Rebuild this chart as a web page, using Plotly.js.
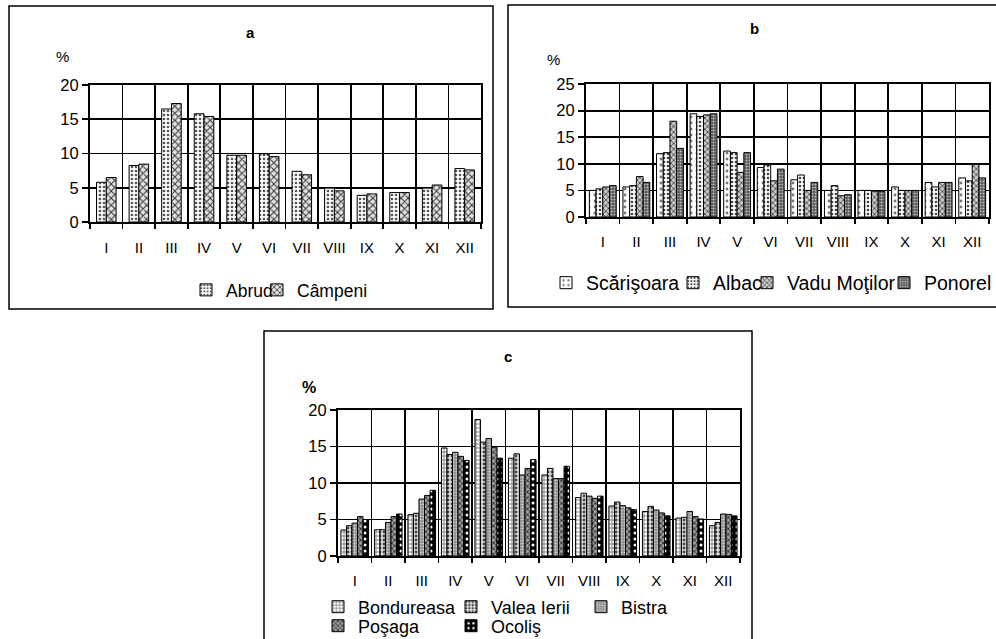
<!DOCTYPE html>
<html>
<head>
<meta charset="utf-8">
<script src="https://cdn.plot.ly/plotly-3.0.1.min.js"></script>
<style>html,body{margin:0;padding:0;background:#fff;}#chart{width:996px;height:639px;}</style>
</head>
<body>
<div id="chart"></div>
<script>
// ---- data ----
const months = ['I','II','III','IV','V','VI','VII','VIII','IX','X','XI','XII'];

// panel a
const namesA = ['Abrud','Câmpeni'];
const abrud   = [5.8, 8.25, 16.5, 15.8, 9.75, 9.95, 7.4, 4.95, 3.9, 4.3, 4.95, 7.8];
const campeni = [6.5, 8.45, 17.3, 15.4, 9.75, 9.55, 6.9, 4.55, 4.1, 4.3, 5.4, 7.6];

// panel b
const namesB = ['Scărişoara','Albac','Vadu Moţilor','Ponorel'];
const scarisoara  = [5.0, 5.65, 11.9, 19.4, 12.4, 9.3, 7.0, 5.0, 5.0, 5.65, 6.5, 7.35];
const albac       = [5.3, 5.9, 12.1, 18.9, 12.1, 9.8, 7.9, 5.9, 5.0, 5.0, 5.65, 6.8];
const vaduMotilor = [5.65, 7.6, 18.0, 19.2, 8.4, 6.8, 5.0, 4.0, 4.85, 5.0, 6.5, 9.9];
const ponorel     = [5.9, 6.5, 12.9, 19.4, 12.1, 9.0, 6.5, 4.2, 4.85, 5.0, 6.5, 7.35];

// panel c
const namesC = ['Bondureasa','Valea Ierii','Bistra','Poşaga','Ocoliş'];
const bondureasa = [3.56, 3.6, 5.66, 14.8, 18.7, 13.4, 11.1, 8.0, 6.85, 6.1, 5.2, 4.15];
const valeaIerii = [4.15, 3.6, 5.85, 13.9, 15.6, 14.0, 12.0, 8.6, 7.4, 6.8, 5.3, 4.6];
const bistra     = [4.5, 4.6, 7.8, 14.2, 16.1, 11.1, 10.6, 8.2, 6.9, 6.3, 6.1, 5.75];
const posaga     = [5.4, 5.4, 8.3, 13.65, 14.9, 12.0, 10.6, 7.9, 6.6, 5.9, 5.4, 5.7];
const ocolis     = [5.0, 5.75, 9.0, 13.1, 13.4, 13.2, 12.3, 8.2, 6.35, 5.5, 5.07, 5.5];

// ---- styles / layout helpers ----
const W = 996, H = 639;
const FONT = 'Arial, "Liberation Sans", sans-serif';
const px = v => v / W;
const py = v => 1 - v / H;

const stylesA = [
  {shape:'.', bg:'#ffffff', fg:'#555555', size:4, solidity:0.35},
  {shape:'x', bg:'#e0e0e0', fg:'#333333', size:5, solidity:0.35}
];
const stylesB = [
  {shape:'.', bg:'#ffffff', fg:'#777777', size:6, solidity:0.18},
  {shape:'.', bg:'#ffffff', fg:'#444444', size:4, solidity:0.35},
  {shape:'x', bg:'#cccccc', fg:'#333333', size:4, solidity:0.35},
  {shape:'.', bg:'#555555', fg:'#bbbbbb', size:3, solidity:0.4}
];
const stylesC = [
  {shape:'+', bg:'#ffffff', fg:'#777777', size:4, solidity:0.4},
  {shape:'.', bg:'#e0e0e0', fg:'#444444', size:4, solidity:0.4},
  {shape:'.', bg:'#8a8a8a', fg:'#d0d0d0', size:3, solidity:0.4},
  {shape:'x', bg:'#9a9a9a', fg:'#2a2a2a', size:4, solidity:0.4},
  {shape:'.', bg:'#000000', fg:'#ffffff', size:6, solidity:0.2}
];

function makeTraces(names, series, styles, ax, ay, legendIds, barW) {
  const n = series.length;
  const start = -n * barW / 2;
  return series.map((vals, i) => ({
    type: 'bar', x: months, y: vals, name: names[i],
    xaxis: ax, yaxis: ay, legend: legendIds[i], showlegend: true,
    width: barW, offset: start + i * barW,
    marker: {
      color: styles[i].bg,
      pattern: {shape: styles[i].shape, bgcolor: styles[i].bg, fgcolor: styles[i].fg,
                size: styles[i].size, solidity: styles[i].solidity},
      line: {color: '#000', width: 1}
    },
    hoverinfo: 'skip'
  }));
}

const traces = [].concat(
  makeTraces(namesA, [abrud, campeni], stylesA, 'x', 'y', ['legend','legend2'], 0.3),
  makeTraces(namesB, [scarisoara, albac, vaduMotilor, ponorel], stylesB, 'x2', 'y2',
             ['legend3','legend4','legend5','legend6'], 0.2),
  makeTraces(namesC, [bondureasa, valeaIerii, bistra, posaga, ocolis], stylesC, 'x3', 'y3',
             ['legend7','legend8','legend9','legend10','legend11'], 0.165)
);

function xAx(d0, d1, anchor, standoff) {
  return {domain:[px(d0), px(d1)], anchor: anchor, type:'category',
    categoryorder:'array', categoryarray: months, range:[-0.5, 11.5],
    tickson:'boundaries', showgrid:true, gridcolor:'#000', gridwidth:1.8,
    ticks:'outside', ticklen:5, tickcolor:'#000', tickwidth:1.8,
    showline:true, linecolor:'#000', linewidth:2, mirror:true,
    tickfont:{family:FONT, size:15, color:'#000'}, ticklabelstandoff:standoff, fixedrange:true};
}
function yAx(top, bottom, anchor, maxV) {
  return {domain:[py(bottom), py(top)], anchor: anchor, range:[0, maxV], dtick:5, tick0:0,
    showgrid:true, gridcolor:'#000', gridwidth:1.8, zeroline:false,
    ticks:'outside', ticklen:6, tickcolor:'#000', tickwidth:1.8,
    showline:true, linecolor:'#000', linewidth:2, mirror:true,
    tickfont:{family:FONT, size:16.5, color:'#000'}, fixedrange:true};
}

function leg(textX, cy, size) {
  return {x: px(textX - 40), y: py(cy), xanchor:'left', yanchor:'middle', orientation:'h',
    bgcolor:'rgba(0,0,0,0)', borderwidth:0, font:{family:FONT, size:size, color:'#000'},
    itemclick:false, itemdoubleclick:false};
}

function ann(text, x, y, size) {
  return {text:text, x:px(x), y:py(y), xref:'paper', yref:'paper', showarrow:false,
    xanchor:'center', yanchor:'middle', font:{family:FONT, size:size, color:'#000'}};
}
function box(x0, y0, x1, y1) {
  return {type:'rect', xref:'paper', yref:'paper', x0:px(x0), x1:px(x1), y0:py(y1), y1:py(y0),
    line:{color:'#000', width:1.5}, fillcolor:'rgba(0,0,0,0)', layer:'below'};
}

const layout = {
  width: W, height: H, margin:{l:0, r:0, t:0, b:0, autoexpand:false},
  paper_bgcolor:'#fff', plot_bgcolor:'#fff', showlegend:true,
  barmode:'overlay', font:{family:FONT, color:'#000'},
  xaxis: xAx(90, 481, 'y', 11),   yaxis: yAx(85, 222, 'x', 20),
  xaxis2: xAx(586, 989, 'y2', 10), yaxis2: yAx(84, 217, 'x2', 25),
  xaxis3: xAx(338, 740, 'y3', 10), yaxis3: yAx(410, 556, 'x3', 20),
  legend: leg(226, 290, 17.5), legend2: leg(297, 290, 17.5),
  legend3: leg(586, 283, 19.5), legend4: leg(713, 283, 19.5), legend5: leg(787, 283, 19.5), legend6: leg(924, 283, 19.5),
  legend7: leg(358, 607, 18), legend8: leg(491, 607, 18), legend9: leg(621, 607, 18),
  legend10: leg(358, 626, 18), legend11: leg(491, 626, 18),
  annotations: [
    ann('<b>a</b>', 250, 32, 15), ann('%', 62, 57, 15),
    ann('<b>b</b>', 754, 29, 15), ann('%', 553, 59, 15),
    ann('<b>c</b>', 508, 356, 15), ann('<b>%</b>', 309, 387, 16)
  ],
  shapes: [ box(9, 6, 493, 309), box(508, 5, 1005, 307), box(264, 331, 752, 645) ]
};

Plotly.newPlot('chart', traces, layout, {staticPlot:true, displayModeBar:false});
</script>
</body>
</html>
